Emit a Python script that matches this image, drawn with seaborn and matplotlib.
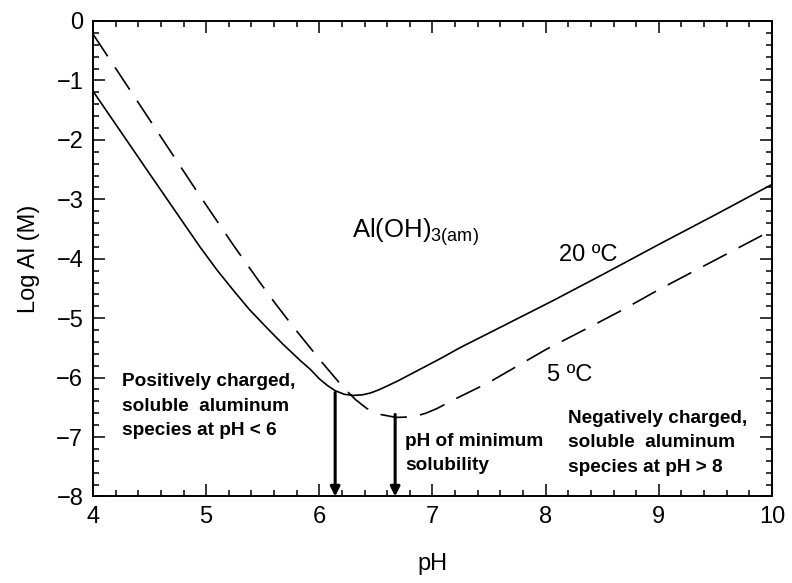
import numpy as np
import pandas as pd
import seaborn as sns
import matplotlib.pyplot as plt
from matplotlib.ticker import MultipleLocator

# Al(OH)3(am) solubility curves
ph_20 = [4.0, 4.5, 4.945, 5.1, 5.24, 5.38, 5.53, 5.68, 5.83, 5.92, 6.0, 6.07, 6.14,
         6.22, 6.30, 6.38, 6.45, 6.52, 6.59, 6.7, 6.89, 7.07, 7.24, 7.5, 8.07, 8.5,
         9.0, 9.5, 10.0]
logal_20 = [-1.18, -2.57, -3.80, -4.20, -4.53, -4.85, -5.15, -5.44, -5.71, -5.86, -6.02,
            -6.13, -6.22, -6.28, -6.30, -6.29, -6.26, -6.21, -6.15, -6.05, -5.86, -5.68,
            -5.50, -5.25, -4.70, -4.27, -3.76, -3.26, -2.75]

ph_5 = [4.0, 4.5, 4.93, 5.24, 5.46, 5.61, 5.78, 5.95, 6.0, 6.12, 6.21, 6.32, 6.42,
        6.54, 6.68, 6.83, 6.94, 7.04, 7.2, 7.5, 8.0, 8.45, 8.68, 9.0, 9.5, 9.83, 10.0]
logal_5 = [-0.22, -1.66, -2.90, -3.77, -4.36, -4.75, -5.17, -5.57, -5.69, -5.96, -6.16,
           -6.37, -6.52, -6.62, -6.67, -6.66, -6.60, -6.52, -6.36, -6.08, -5.53, -5.09,
           -4.86, -4.52, -4.02, -3.69, -3.52]

# pH of minimum solubility arrows (x, start y)
arrow_x = [6.14, 6.67]
arrow_y = [-6.25, -6.62]

sns.set_theme(style="ticks")
plt.rcParams['font.family'] = ['Liberation Sans', 'DejaVu Sans']
plt.rcParams['text.color'] = 'black'

fig = plt.figure(figsize=(7.92, 5.83), dpi=100)
ax = fig.add_axes([0.1174, 0.1484, 0.8573, 0.8156])

df20 = pd.DataFrame({"pH": ph_20, "logAl": logal_20})
df5 = pd.DataFrame({"pH": ph_5, "logAl": logal_5})
sns.lineplot(data=df20, x="pH", y="logAl", ax=ax, color="black", lw=1.2, sort=False)
sns.lineplot(data=df5, x="pH", y="logAl", ax=ax, color="black", lw=1.2, sort=False,
             linestyle=(0, (16, 8)))

for x0, y0 in zip(arrow_x, arrow_y):
    ax.annotate("", xy=(x0, -8), xytext=(x0, y0),
                arrowprops=dict(arrowstyle="-|>", lw=2.2, color="black",
                                mutation_scale=14, shrinkA=0, shrinkB=0))

ax.set_xlim(4, 10)
ax.set_ylim(-8, 0)
ax.xaxis.set_major_locator(MultipleLocator(1))
ax.xaxis.set_minor_locator(MultipleLocator(0.2))
ax.yaxis.set_major_locator(MultipleLocator(1))
ax.yaxis.set_minor_locator(MultipleLocator(0.2))
ax.tick_params(which="both", direction="in", top=True, right=True, width=1.1,
               color="black", labelsize=17, labelcolor="black")
ax.tick_params(which="major", length=8.5, pad=7)
ax.tick_params(which="minor", length=4.5)
for s in ax.spines.values():
    s.set_linewidth(1.4)
    s.set_color("black")

ax.set_xlabel("pH", fontsize=17, labelpad=18, color="black")
ax.set_ylabel("Log Al (M)", fontsize=17, labelpad=12, color="black")

# Labels inside the plot
ax.text(6.85, -3.55, r"Al(OH)$_{\mathregular{3(am)}}$", fontsize=18.5, ha="center", va="center")
ax.text(8.38, -3.94, "20 ºC", fontsize=17, ha="center", va="center")
ax.text(8.21, -5.96, "5 ºC", fontsize=17, ha="center", va="center")
bold_kw = dict(fontsize=13.7, fontweight="bold", ha="left", va="top", linespacing=1.55,
               color="black")
ax.text(4.26, -5.93, "Positively charged,\nsoluble  aluminum\nspecies at pH < 6", **bold_kw)
ax.text(6.76, -6.93, "pH of minimum\nsolubility", **bold_kw)
ax.text(8.2, -6.55, "Negatively charged,\nsoluble  aluminum\nspecies at pH > 8", **bold_kw)

plt.savefig("out.png", dpi=100)
